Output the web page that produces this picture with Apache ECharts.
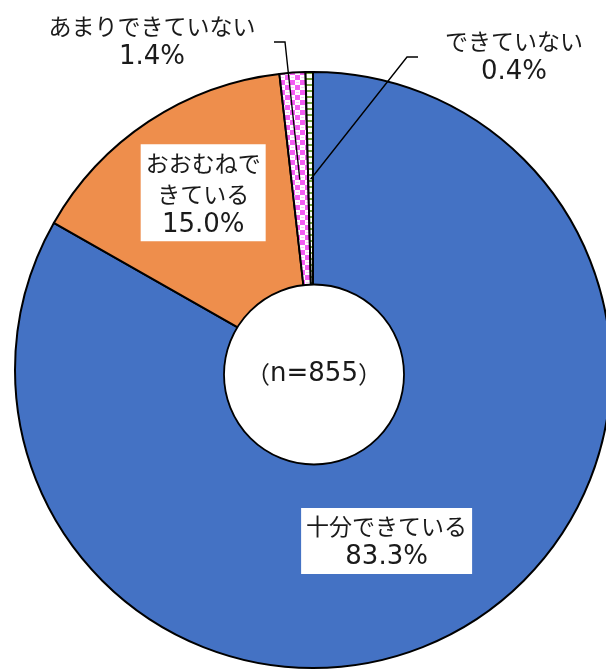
<!DOCTYPE html>
<html>
<head>
<meta charset="utf-8">
<script src="https://cdn.jsdelivr.net/npm/echarts@6/dist/echarts.min.js"></script>
<style>
  html, body { margin: 0; padding: 0; background: #fff; }
  #chart { width: 606px; height: 669px; }
</style>
</head>
<body>
<div id="chart"></div>
<script>
// Survey answers, clockwise from 12 o'clock
const categories = ['十分できている', 'おおむねできている', 'あまりできていない', 'できていない'];
const labelLines = [['十分できている'], ['おおむねで', 'きている'], ['あまりできていない'], ['できていない']];
const shares = [83.3, 15.0, 1.4, 0.4];
const sampleSize = 855;

const KANA_FONT = '"Noto Sans CJK JP", "Noto Sans", sans-serif';
const NUM_FONT = '"DejaVu Sans", "Noto Sans", sans-serif';
const CX = 313, CY = 370, R = 298;
const INNER = 80;

// Tiled fills for the two small slices
function checkerTile() {
  const c = document.createElement('canvas');
  c.width = 10; c.height = 10;
  const g = c.getContext('2d');
  g.fillStyle = '#ffffff'; g.fillRect(0, 0, 10, 10);
  g.fillStyle = '#f25ef2';
  g.fillRect(0, 0, 5, 5); g.fillRect(5, 5, 5, 5);
  g.fillStyle = '#ffc2ff';
  g.fillRect(1, 7, 3, 1); g.fillRect(6, 2, 3, 1);
  return c;
}
function dashTile() {
  const c = document.createElement('canvas');
  c.width = 6; c.height = 6;
  const g = c.getContext('2d');
  g.fillStyle = '#ffffff'; g.fillRect(0, 0, 6, 6);
  g.fillStyle = '#6fa33a';
  g.fillRect(0, 0, 6, 2);
  return c;
}

const fills = [
  '#4472c4',
  '#ee8e4c',
  { image: checkerTile(), repeat: 'repeat' },
  { image: dashTile(), repeat: 'repeat' }
];

// Outside callouts: label centre and elbow (relative to the pie centre),
// leader starts inside the slice at `inset` of the outer radius
const callouts = {
  2: { label: [-161, -328], elbow: [-28, -328], tail: [-39, -328], inset: 0.64 },
  3: { label: [201, -313], elbow: [94, -313], tail: [105, -313], inset: 0.64 }
};
// Nudges for the labels that sit on their slices
const insideOffsets = { 0: [-23, 5], 1: [-4, -17] };

const total = shares.reduce((a, b) => a + b, 0);
function midAngle(i) {
  let before = 0;
  for (let k = 0; k < i; k++) before += shares[k];
  return (before + shares[i] / 2) / total * Math.PI * 2; // clockwise from 12 o'clock
}

const data = shares.map((v, i) => {
  const isCallout = !!callouts[i];
  return {
    name: categories[i],
    value: v,
    itemStyle: { color: fills[i] },
    label: isCallout
      ? { position: 'outside', backgroundColor: 'transparent', padding: 0 }
      : { position: 'inside', backgroundColor: '#ffffff', padding: [3, 5, 1, 5], offset: insideOffsets[i] },
    labelLine: { show: false }
  };
});

// Leader lines for the two thin slices
const leaders = Object.keys(callouts).map(key => {
  const i = Number(key);
  const c = callouts[i];
  const a = midAngle(i);
  const r = R * c.inset;
  return {
    type: 'polyline',
    shape: {
      points: [
        [CX + Math.sin(a) * r, CY - Math.cos(a) * r],
        [CX + c.elbow[0], CY + c.elbow[1]],
        [CX + c.tail[0], CY + c.tail[1]]
      ]
    },
    style: { stroke: '#000000', lineWidth: 1.4, fill: null },
    z: 90,
    silent: true
  };
});

const chart = echarts.init(document.getElementById('chart'), null, { renderer: 'canvas' });

chart.setOption({
  backgroundColor: '#ffffff',
  animation: false,
  series: [{
    type: 'pie',
    center: [CX, CY],
    radius: [INNER, R],
    startAngle: 90,
    clockwise: true,
    avoidLabelOverlap: false,
    silent: true,
    itemStyle: { borderColor: '#000000', borderWidth: 2 },
    label: {
      show: true,
      color: '#1a1a1a',
      lineHeight: 31,
      align: 'center',
      formatter: p => labelLines[p.dataIndex].map(s => '{t|' + s + '}')
        .concat('{n|' + p.value.toFixed(1) + '%}').join('\n'),
      rich: {
        t: { fontFamily: KANA_FONT, fontSize: 23, lineHeight: 31, color: '#1a1a1a' },
        n: { fontFamily: NUM_FONT, fontSize: 26, lineHeight: 31, color: '#1a1a1a' }
      }
    },
    labelLine: { show: false },
    labelLayout: function (p) {
      const c = callouts[p.dataIndex];
      if (!c) return {};
      return {
        x: CX + c.label[0],
        y: CY + c.label[1],
        align: 'center',
        verticalAlign: 'middle'
      };
    },
    data: data
  }],
  graphic: leaders.concat([{
    type: 'circle',
    shape: { cx: CX + 1, cy: CY + 4.5, r: 90 },
    style: { fill: '#ffffff', stroke: '#000000', lineWidth: 1.8 },
    z: 100
  }, {
    type: 'text',
    x: CX + 1,
    y: CY + 4,
    style: {
      text: '{p|（}{n|n=' + sampleSize + '}{p|）}',
      rich: {
        p: { fontFamily: KANA_FONT, fontSize: 24, fill: '#1a1a1a' },
        n: { fontFamily: NUM_FONT, fontSize: 26, fill: '#1a1a1a' }
      },
      textAlign: 'center',
      textVerticalAlign: 'middle'
    },
    z: 101
  }])
});
</script>
</body>
</html>
